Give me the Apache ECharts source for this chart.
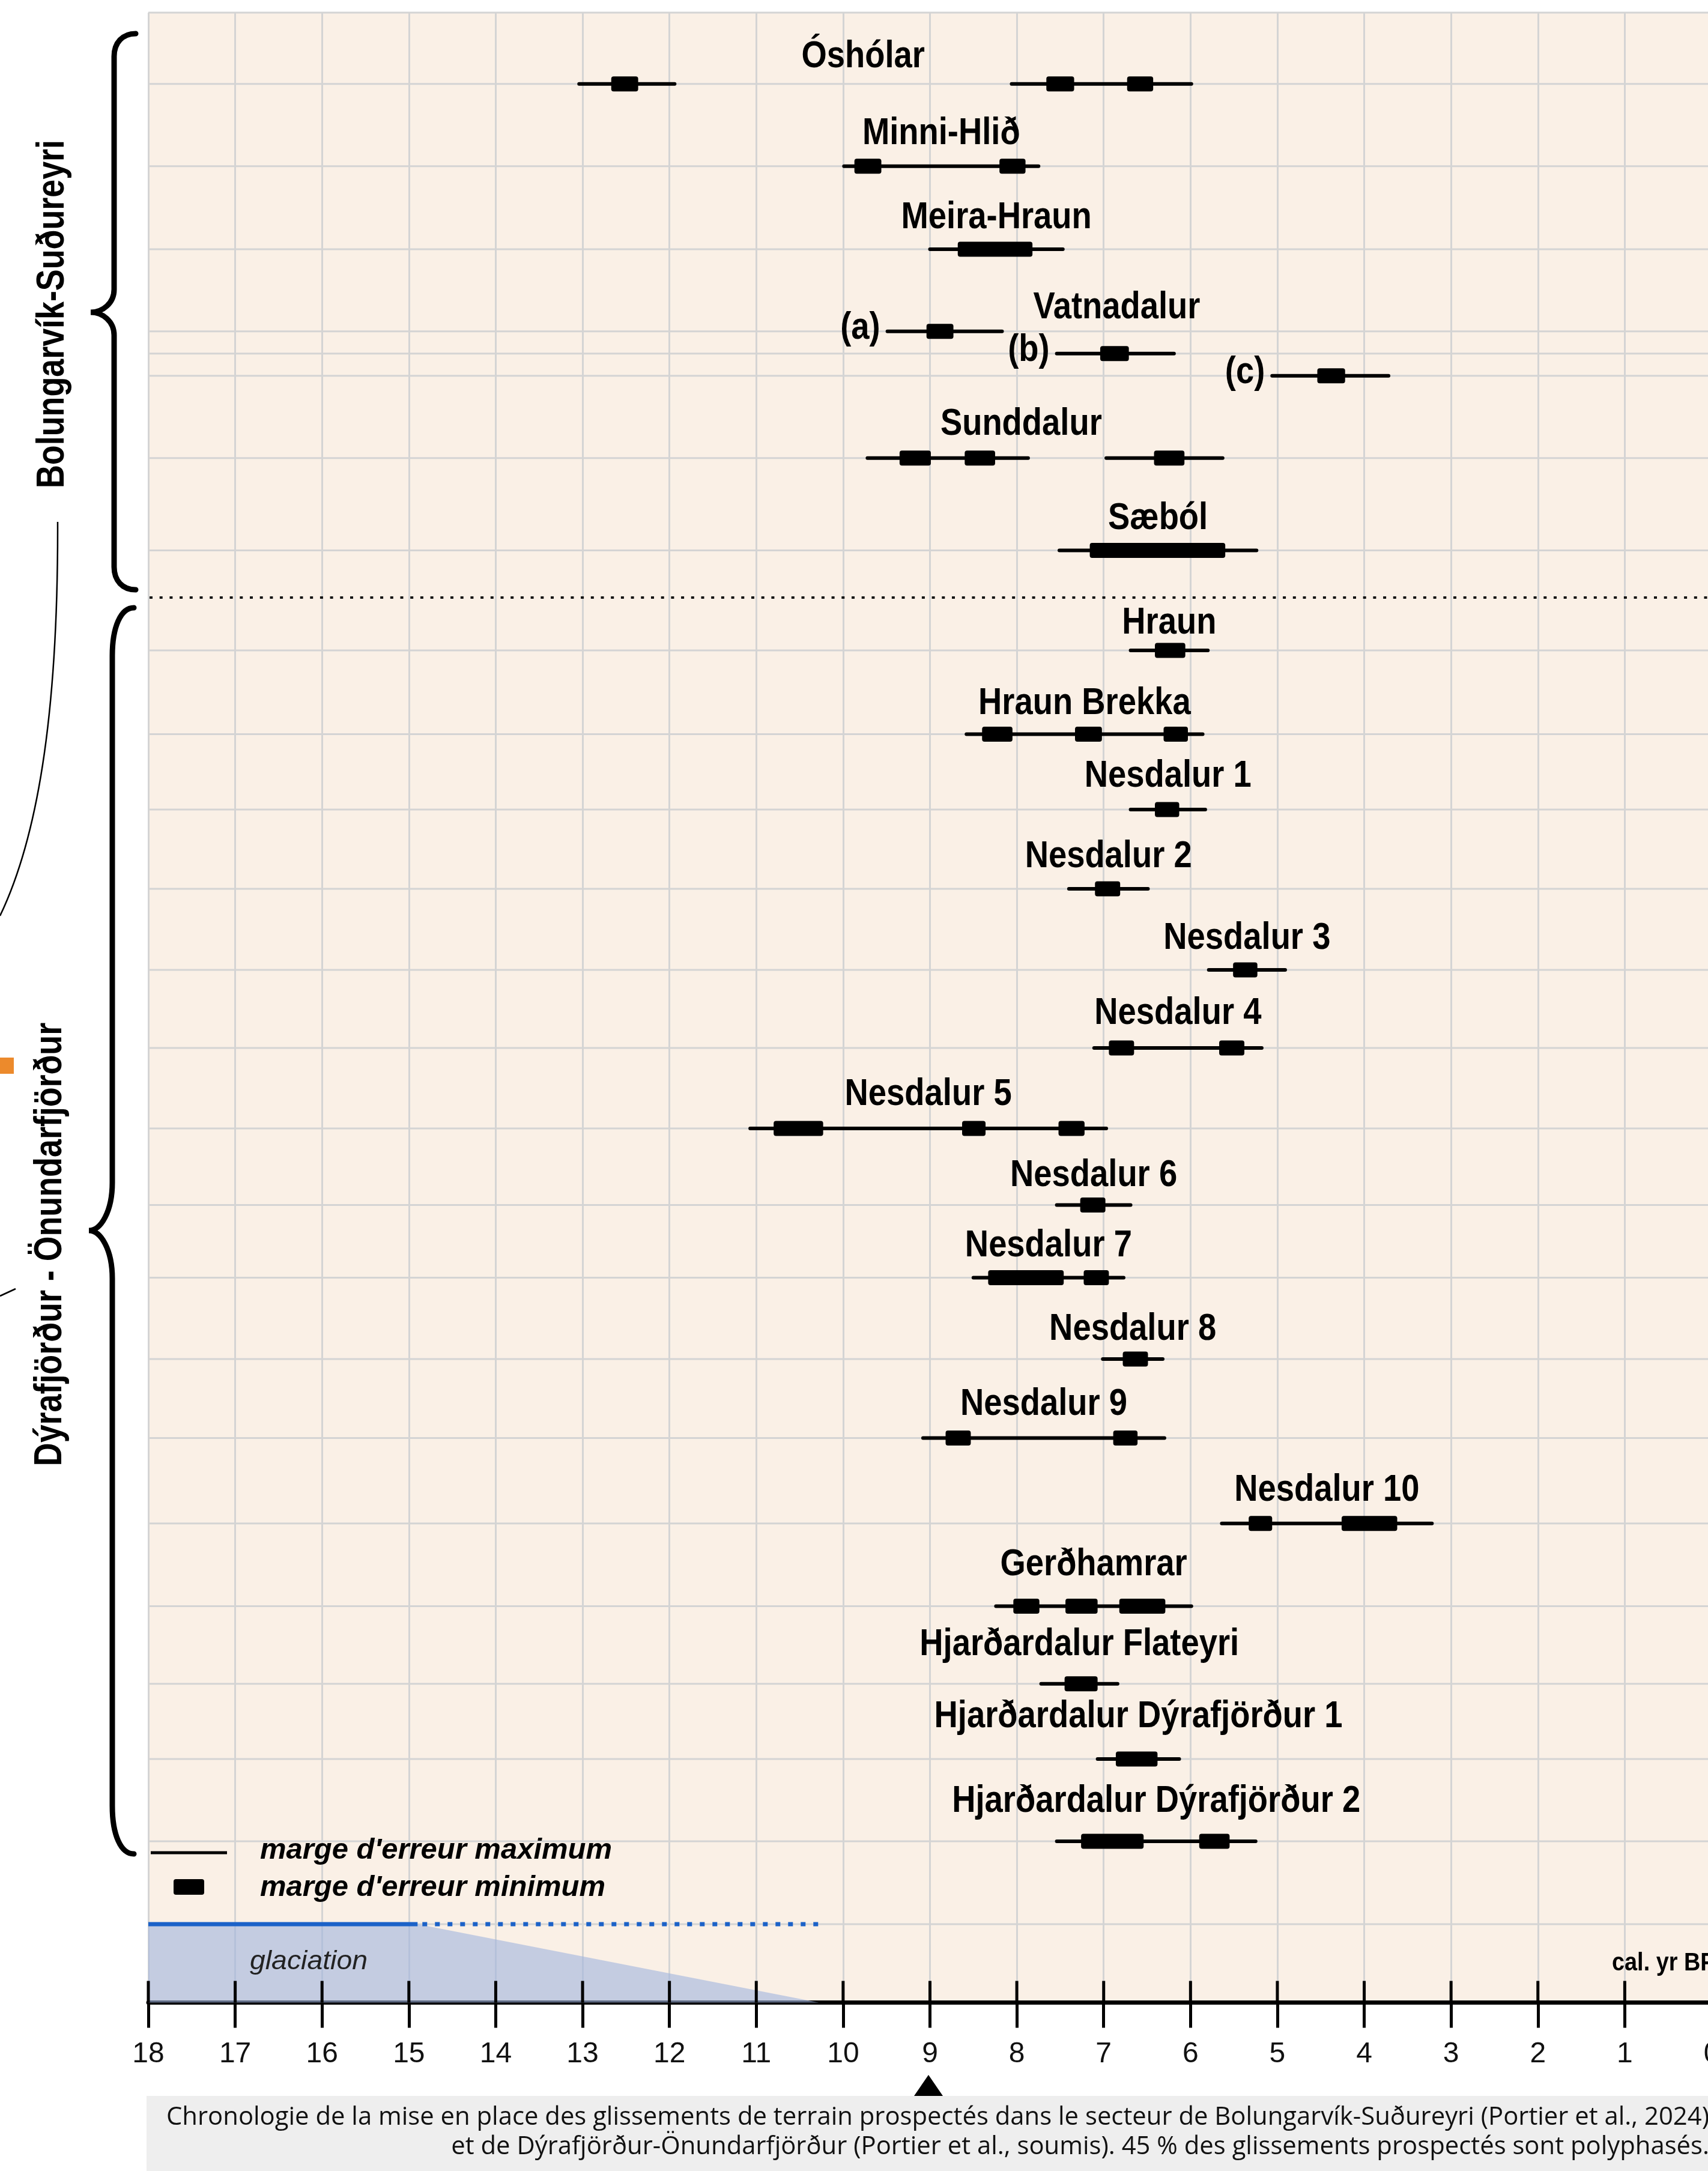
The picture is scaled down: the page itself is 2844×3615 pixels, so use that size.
<!DOCTYPE html>
<html><head><meta charset="utf-8">
<script src="https://cdn.jsdelivr.net/npm/echarts@6/dist/echarts.min.js"></script>
<style>html,body{margin:0;padding:0;background:#fff}#c{width:2844px;height:3615px}</style>
</head><body><div id="c"></div>
<script>
// ---------------- DATA ----------------
const yearTicks = [18,17,16,15,14,13,12,11,10,9,8,7,6,5,4,3,2,1,0];
const rowNames = ['Óshólar','Minni-Hlið','Meira-Hraun','Vatnadalur','Vatnadalur','Vatnadalur','Sunddalur','Sæból',
  'Hraun','Hraun Brekka','Nesdalur 1','Nesdalur 2','Nesdalur 3','Nesdalur 4','Nesdalur 5','Nesdalur 6','Nesdalur 7',
  'Nesdalur 8','Nesdalur 9','Nesdalur 10','Gerðhamrar','Hjarðardalur Flateyri','Hjarðardalur Dýrafjörður 1','Hjarðardalur Dýrafjörður 2'];
const rowTags = ['','','','(a)','(b)','(c)','','','','','','','','','','','','','','','','','',''];
// marge d'erreur maximum (ka cal BP, start -> end)
const maxRanges = [
  [[13.04,11.94],[8.06,5.99]],
  [[9.99,7.75]],
  [[9.00,7.47]],
  [[9.49,8.17]],
  [[7.54,6.19]],
  [[5.06,3.72]],
  [[9.72,7.87],[6.97,5.63]],
  [[7.51,5.24]],
  [[6.69,5.80]],
  [[8.58,5.86]],
  [[6.69,5.83]],
  [[7.40,6.49]],
  [[5.79,4.91]],
  [[7.11,5.18]],
  [[11.07,6.97]],
  [[7.54,6.69]],
  [[8.50,6.77]],
  [[7.01,6.32]],
  [[9.08,6.30]],
  [[5.64,3.22]],
  [[8.24,5.99]],
  [[7.72,6.84]],
  [[7.07,6.13]],
  [[7.54,5.25]]
];
// marge d'erreur minimum
const minRanges = [
  [[12.67,12.36],[7.66,7.34],[6.73,6.43]],
  [[9.87,9.56],[8.20,7.90]],
  [[8.68,7.82]],
  [[9.04,8.73]],
  [[7.04,6.71]],
  [[4.54,4.22]],
  [[9.35,8.99],[8.60,8.25],[6.42,6.07]],
  [[7.16,5.60]],
  [[6.41,6.06]],
  [[8.40,8.05],[7.33,7.02],[6.31,6.03]],
  [[6.41,6.13]],
  [[7.10,6.81]],
  [[5.51,5.23]],
  [[6.94,6.65],[5.67,5.38]],
  [[10.80,10.23],[8.63,8.36],[7.52,7.22]],
  [[7.27,6.98]],
  [[8.33,7.46],[7.23,6.94]],
  [[6.78,6.49]],
  [[8.82,8.53],[6.89,6.61]],
  [[5.33,5.06],[4.26,3.62]],
  [[8.04,7.74],[7.44,7.07],[6.82,6.29]],
  [[7.45,7.07]],
  [[6.86,6.38]],
  [[7.26,6.54],[5.90,5.55]]
];
// glaciation (ka): full ice until, deglaciation end
const glaciationSolidUntil = 14.9;
const glaciationEnd = 10.28;
const groupNames = ['Bolungarvík-Suðureyri', 'Dýrafjörður - Önundarfjörður'];
const legendNames = ["marge d'erreur maximum", "marge d'erreur minimum"];
const captionLines = [
  'Chronologie de la mise en place des glissements de terrain prospectés dans le secteur de Bolungarvík-Suðureyri (Portier et al., 2024)',
  'et de Dýrafjörður-Önundarfjörður (Portier et al., soumis). 45 % des glissements prospectés sont polyphasés.'
];

// ---------------- LAYOUT (row positions on the vertical axis, label anchors) ----------------
const rowPos = [1.187,2.558,3.94,5.307,5.677,6.047,7.418,8.955,10.62,12.016,13.27,14.59,15.94,17.24,18.58,
  19.855,21.065,22.42,23.734,25.157,26.536,27.827,29.08,30.45];
const yMax = 33.135, glacLineY = 31.83, separatorY = 9.74;
const titleAt = [9.77,null,null,6.85,null,null,7.95,null,null,null,null,null,null,null,null,null,null,null,null,null,null,null,null,null];
const titleDy = [-45,-54,-52,-39,0,0,-56,-53,-45,-51,-55,-53,-52,-57,-56,-49,-53,-49,-56,-55,-69,-65,-70,-66];
// brace spans on the vertical axis: [top, tip, bottom, curve, spine x]
const braces = [[0.35, 4.99, 9.61, 38, 190], [9.91, 20.28, 30.66, 80, 187]];

// ---------------- helpers ----------------
const mctx = document.createElement('canvas').getContext('2d');
function tw(t, font){ mctx.font = font; return mctx.measureText(t).width; }
const FF = '"Liberation Sans", Arial, sans-serif';
const titleFont = 'bold 63px ' + FF;
const titleSX = 680 / tw('Hjarðardalur Dýrafjörður 2', titleFont);
const groupFont = 'bold 65px ' + FF;
const groupSX = 580 / tw(groupNames[0], groupFont);
const legFont = 'italic bold 49px ' + FF;
const legSX = 586 / tw(legendNames[0], legFont);
const glacFont = 'italic 45px ' + FF;
const glacSX = 196 / tw('glaciation', glacFont);
const calFont = 'bold 42px ' + FF;
const calSX = 120 / tw('cal. yr ', calFont);
const capFont = '42px "Open Sans", "DejaVu Sans", sans-serif';
const capSX = 2569 / tw(captionLines[0], capFont);

// flattened data
const maxData = [], minData = [], titleData = [], tagData = [], gridData = [];
rowNames.forEach((n,i)=>{
  maxRanges[i].forEach(r=>maxData.push([r[0], r[1], rowPos[i]]));
  minRanges[i].forEach(r=>minData.push([r[0], r[1], rowPos[i]]));
  if (i === 0 || rowNames[i-1] !== n) {
    const starts = maxRanges[i].map(r=>r[0]), ends = maxRanges[i].map(r=>r[1]);
    const cx = titleAt[i] != null ? titleAt[i] : (Math.max(...starts) + Math.min(...ends)) / 2;
    titleData.push({value:[cx, rowPos[i], titleDy[i]], name:n});
  }
  if (rowTags[i]) tagData.push({value:[maxRanges[i][0][0], rowPos[i]], name:rowTags[i]});
  gridData.push([rowPos[i]]);
});
gridData.push([0]); gridData.push([glacLineY]);

function txt(x, y, text, font, opts){
  opts = opts || {};
  const el = {type:'text', x:x, y:y, scaleX: opts.sx || 1, rotation: opts.rot || 0,
    style:{text:text, font:font, fill: opts.fill || '#000', textAlign: opts.align || 'left', align: opts.align || 'left',
      textVerticalAlign:'middle', verticalAlign:'middle'}};
  if (opts.z != null) el.z = opts.z;
  return el;
}

const chart = echarts.init(document.getElementById('c'), null, {renderer:'canvas'});
const option = {
  backgroundColor:'#ffffff',
  animation:false,
  grid:{left:247, right:-6, top:21, bottom:3615-3334.5, containLabel:false, outerBoundsMode:'none',
    show:true, backgroundColor:'#faf0e6', borderWidth:0},
  xAxis:{type:'value', min: Math.min(...yearTicks), max: Math.max(...yearTicks), interval:1, inverse:true, position:'bottom',
    axisLine:{show:true, onZero:false, lineStyle:{color:'#000', width:7}},
    axisTick:{show:true, inside:false, length:42, lineStyle:{color:'#000', width:5}},
    axisLabel:{show:true, margin:62, fontSize:48, fontFamily:'"Liberation Sans", Arial, sans-serif', color:'#111',
      hideOverlap:false, showMinLabel:true, showMaxLabel:true},
    splitLine:{show:true, lineStyle:{color:'#d4d4d4', width:3}}
  },
  yAxis:{type:'value', min:0, max:yMax, inverse:true, show:false},
  series:[
    { // horizontal grid lines
      type:'custom', z:1, silent:true, data:gridData, encode:{y:0},
      renderItem:(p, api)=>{
        const a = api.coord([18, api.value(0)]), b = api.coord([0, api.value(0)]);
        return {type:'line', shape:{x1:a[0], y1:a[1], x2:b[0], y2:b[1]}, style:{stroke:'#d4d4d4', lineWidth:3}};
      }
    },
    { // separator
      type:'custom', z:2, silent:true, data:[[separatorY]], encode:{y:0},
      renderItem:(p, api)=>{
        const a = api.coord([18, api.value(0)]), b = api.coord([0, api.value(0)]);
        return {type:'line', shape:{x1:a[0]+2, y1:a[1], x2:b[0], y2:b[1]}, style:{stroke:'#111', lineWidth:4, lineDash:[5,11.7]}};
      }
    },
    { // glaciation
      type:'custom', name:'glaciation', z:3, silent:true, data:[[18, glaciationSolidUntil, glaciationEnd]],
      renderItem:(p, api)=>{
        const t0 = api.coord([api.value(0), glacLineY]), t1 = api.coord([api.value(1), glacLineY]);
        const b2 = api.coord([api.value(2), yMax]), b0 = api.coord([api.value(0), yMax]);
        const d2 = api.coord([api.value(2), glacLineY]);
        return {type:'group', children:[
          {type:'polygon', shape:{points:[t0, t1, b2, b0]}, style:{fill:'rgba(160,180,222,0.6)'}},
          {type:'line', shape:{x1:t0[0], y1:t0[1], x2:t1[0], y2:t1[1]}, style:{stroke:'#1c62c8', lineWidth:7}},
          {type:'line', shape:{x1:t1[0]+8, y1:t1[1], x2:d2[0], y2:d2[1]}, style:{stroke:'#1c62c8', lineWidth:7, lineDash:[8,13]}}
        ]};
      }
    },
    { // upper halves of the axis ticks
      type:'custom', z:4, silent:true, clip:false, data:yearTicks.map(v=>[v]), encode:{x:0},
      renderItem:(p, api)=>{
        const a = api.coord([api.value(0), yMax]);
        return {type:'line', shape:{x1:a[0], y1:a[1], x2:a[0], y2:a[1]-36}, style:{stroke:'#000', lineWidth:5}};
      }
    },
    { // braces for the two sectors
      type:'custom', z:4, silent:true, clip:false, data:braces, encode:{y:[0,1,2]},
      renderItem:(p, api)=>{
        const yt = api.coord([18, api.value(0)])[1], ym = api.coord([18, api.value(1)])[1], yb = api.coord([18, api.value(2)])[1];
        const c = api.value(3), xs = api.value(4), xe = xs + 36, xt = xs - 39;
        const d = 'M'+xe+','+yt+' C'+(xe-22)+','+yt+' '+xs+','+(yt+c*0.4)+' '+xs+','+(yt+c)+
          ' L'+xs+','+(ym-c)+' C'+xs+','+(ym-c*0.4)+' '+(xt+20)+','+ym+' '+xt+','+ym+
          ' C'+(xt+20)+','+ym+' '+xs+','+(ym+c*0.4)+' '+xs+','+(ym+c)+
          ' L'+xs+','+(yb-c)+' C'+xs+','+(yb-c*0.4)+' '+(xe-22)+','+yb+' '+xe+','+yb;
        return {type:'path', shape:{pathData:d}, style:{stroke:'#000', lineWidth:9, fill:'none', lineCap:'round'}};
      }
    },
    { // max error lines
      type:'custom', name:legendNames[0], z:5, data:maxData, encode:{x:[0,1], y:2},
      renderItem:(p, api)=>{
        const y = api.value(2);
        const a = api.coord([api.value(0), y]), b = api.coord([api.value(1), y]);
        return {type:'line', shape:{x1:a[0], y1:a[1], x2:b[0], y2:b[1]}, style:{stroke:'#000', lineWidth:6, lineCap:'round'}};
      }
    },
    { // min error boxes
      type:'custom', name:legendNames[1], z:6, data:minData, encode:{x:[0,1], y:2},
      renderItem:(p, api)=>{
        const y = api.value(2);
        const a = api.coord([api.value(0), y]), b = api.coord([api.value(1), y]);
        return {type:'rect', shape:{x:a[0], y:a[1]-12.5, width:b[0]-a[0], height:25, r:4}, style:{fill:'#000'}};
      }
    },
    { // site titles
      type:'custom', z:7, silent:true, data:titleData, encode:{x:0, y:1},
      renderItem:(p, api)=>{
        const c = api.coord([api.value(0), api.value(1)]);
        return txt(c[0], c[1] + api.value(2), titleData[p.dataIndex].name, titleFont, {sx:titleSX, align:'center'});
      }
    },
    { // (a)(b)(c) tags
      type:'custom', z:7, silent:true, data:tagData, encode:{x:0, y:1},
      renderItem:(p, api)=>{
        const c = api.coord([api.value(0), api.value(1)]);
        return txt(c[0] - 12, c[1] - 5, tagData[p.dataIndex].name, titleFont, {sx:titleSX, align:'right'});
      }
    }
  ],
  graphic:[
    txt(88, 523, groupNames[0], groupFont, {sx:groupSX, align:'center', rot:Math.PI/2}),
    txt(84, 2072, groupNames[1], groupFont, {sx:groupSX, align:'center', rot:Math.PI/2}),
    // stray marks from neighbouring figure
    {type:'bezierCurve', shape:{x1:96, y1:869, cpx1:97, cpy1:1200, cpx2:60, cpy2:1400, x2:0, y2:1525}, style:{stroke:'#000', lineWidth:2.5, fill:null}},
    {type:'line', shape:{x1:0, y1:2158, x2:26, y2:2146}, style:{stroke:'#000', lineWidth:2.5}},
    {type:'rect', shape:{x:0, y:1761, width:23, height:27}, style:{fill:'#ec8a2c'}},
    // legend
    {type:'line', z:10, shape:{x1:251, y1:3085, x2:378, y2:3085}, style:{stroke:'#000', lineWidth:5}},
    {type:'rect', z:10, shape:{x:289, y:3129, width:51, height:26, r:4}, style:{fill:'#000'}},
    txt(433, 3081, legendNames[0], legFont, {sx:legSX, z:10}),
    txt(433, 3143, legendNames[1], legFont, {sx:legSX, z:10}),
    txt(514, 3266, 'glaciation', glacFont, {sx:glacSX, align:'center', fill:'#222', z:10}),
    txt(2684, 3269, 'cal. yr BP', calFont, {sx:calSX, z:10}),
    // pointer triangle under 9
    {type:'polygon', shape:{points:[[1546,3455],[1522,3490],[1570,3490]]}, style:{fill:'#000'}},
    // caption
    {type:'rect', shape:{x:244, y:3490, width:2600, height:125}, style:{fill:'#eeeeee'}},
    txt(2846, 3526, captionLines[0], capFont, {sx:capSX, align:'right', fill:'#111', z:10}),
    txt(2846, 3575, captionLines[1], capFont, {sx:capSX, align:'right', fill:'#111', z:10})
  ]
};
chart.setOption(option);
</script></body></html>
